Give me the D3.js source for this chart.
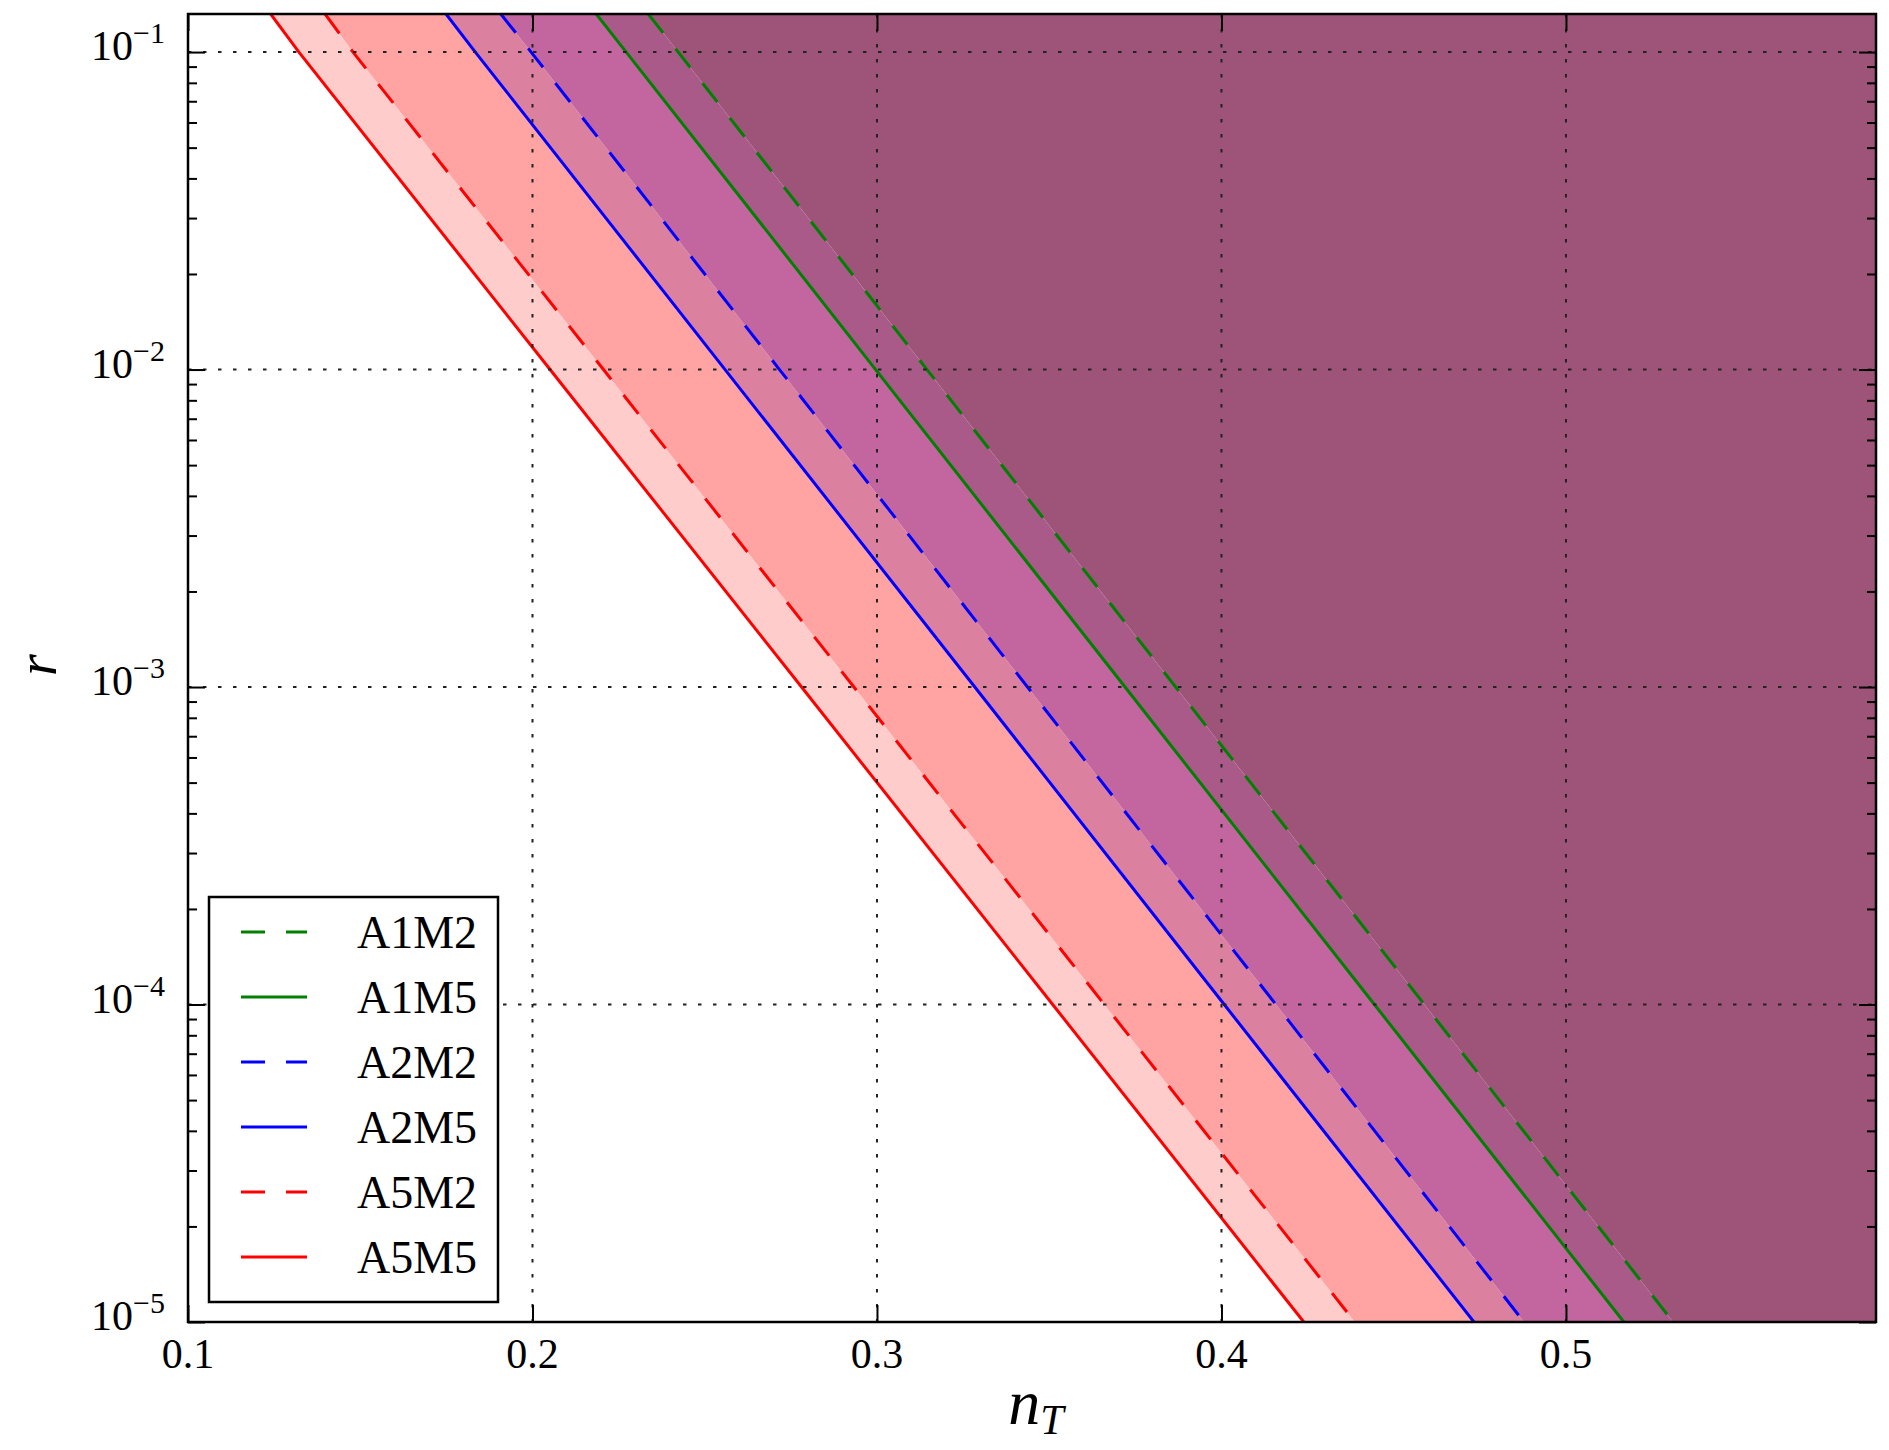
<!DOCTYPE html>
<html>
<head>
<meta charset="utf-8">
<script src="https://cdn.jsdelivr.net/npm/d3@7"></script>
<style>
  html, body { margin: 0; padding: 0; background: #fff; }
  svg { display: block; }
  text { font-family: "Liberation Serif", "DejaVu Serif", serif; fill: #000; }
</style>
</head>
<body>
<svg id="chart" width="1889" height="1450"></svg>
<script>
// ---- data ----
const rLevels = [0.1318, 1e-1, 1e-2, 1e-3, 1e-4, 1e-5];
const seriesNames = ["A5M5", "A5M2", "A2M5", "A2M2", "A1M5", "A1M2"];
const A5M5 = [0.1240, 0.1322, 0.2051, 0.2781, 0.3510, 0.4239];
const A5M2 = [0.1398, 0.1479, 0.2206, 0.2933, 0.3660, 0.4387];
const A2M5 = [0.1749, 0.1834, 0.2559, 0.3284, 0.4008, 0.4733];
const A2M2 = [0.1908, 0.1996, 0.2717, 0.3437, 0.4158, 0.4878];
const A1M5 = [0.2185, 0.2272, 0.2996, 0.3720, 0.4444, 0.5168];
const A1M2 = [0.2336, 0.2423, 0.3145, 0.3867, 0.4589, 0.5311];
const seriesColors = ["#ff0000", "#ff0000", "#0000ff", "#0000ff", "#008000", "#008000"];
const seriesDashed = [false, true, false, true, false, true];
const regionColors = ["#ffcccc", "#ffa3a3", "#dc80a0", "#c366a0", "#aa5a88", "#9e5479"];
const legendOrder = ["A1M2", "A1M5", "A2M2", "A2M5", "A5M2", "A5M5"];
const xTicks = [0.1, 0.2, 0.3, 0.4, 0.5];
const xTickLabels = ["0.1", "0.2", "0.3", "0.4", "0.5"];
const yTicks = [1e-5, 1e-4, 1e-3, 1e-2, 1e-1];
const yTickExps = ["−5", "−4", "−3", "−2", "−1"];
const xDomain = [0.1, 0.59];
const yDomain = [1e-5, 0.1318];

const seriesData = [A5M5, A5M2, A2M5, A2M2, A1M5, A1M2];

// ---- layout ----
const L = 188, R = 1876, T = 14, B = 1322;
const svg = d3.select("#chart");
const x = d3.scaleLinear().domain(xDomain).range([L, R]);
const y = d3.scaleLog().domain(yDomain).range([B, T]);

svg.append("defs").append("clipPath").attr("id", "clip")
  .append("rect").attr("x", L).attr("y", T).attr("width", R - L).attr("height", B - T);

const plot = svg.append("g").attr("clip-path", "url(#clip)");

// fills between consecutive curves
const area = d3.area()
  .y(d => y(d.r)).x0(d => x(d.a)).x1(d => x(d.b));
for (let i = 0; i < seriesData.length; i++) {
  const left = seriesData[i];
  const right = i + 1 < seriesData.length ? seriesData[i + 1] : null;
  const pts = rLevels.map((r, k) => ({ r: r, a: left[k], b: right ? right[k] : xDomain[1] + 0.05 }));
  plot.append("path").attr("d", area(pts)).attr("fill", regionColors[i]).attr("stroke", "none");
}

// grid (dotted)
const grid = svg.append("g").attr("clip-path", "url(#clip)");
xTicks.filter(v => v > xDomain[0]).forEach(v => {
  grid.append("line").attr("x1", x(v)).attr("x2", x(v)).attr("y1", T).attr("y2", B)
    .attr("stroke", "#222").attr("stroke-width", 2).attr("stroke-dasharray", "3.5 11.5");
});
yTicks.filter(v => v > yDomain[0]).forEach(v => {
  grid.append("line").attr("x1", L).attr("x2", R).attr("y1", y(v)).attr("y2", y(v))
    .attr("stroke", "#222").attr("stroke-width", 2).attr("stroke-dasharray", "3.5 11.5");
});

// curves
const line = d3.line().x(d => x(d.n)).y(d => y(d.r));
seriesData.forEach((s, i) => {
  const pts = rLevels.map((r, k) => ({ r: r, n: s[k] }));
  plot.append("path").attr("d", line(pts)).attr("fill", "none")
    .attr("stroke", seriesColors[i]).attr("stroke-width", 3)
    .attr("stroke-dasharray", seriesDashed[i] ? "24 20" : null);
});

// axes ticks (inside, all four sides)
const axB = d3.axisBottom(x).tickValues(xTicks).tickSize(-17).tickFormat("");
const axT = d3.axisTop(x).tickValues(xTicks).tickSize(-17).tickFormat("");
const minorY = [];
for (let e = -5; e <= -1; e++) for (let m = 1; m <= 9; m++) {
  const v = m * Math.pow(10, e);
  if (v >= yDomain[0] && v <= yDomain[1]) minorY.push(v);
}
const minorOnly = minorY.filter(v => !yTicks.some(t => Math.abs(t - v) / t < 1e-9));
const axL = d3.axisLeft(y).tickValues(yTicks).tickSize(-17).tickFormat("");
const axR = d3.axisRight(y).tickValues(yTicks).tickSize(-17).tickFormat("");
const axLm = d3.axisLeft(y).tickValues(minorOnly).tickSize(-9).tickFormat("");
const axRm = d3.axisRight(y).tickValues(minorOnly).tickSize(-9).tickFormat("");
function styleAxis(g) {
  g.select(".domain").remove();
  g.selectAll(".tick line").attr("stroke", "#000").attr("stroke-width", 2);
}
svg.append("g").attr("transform", `translate(0,${B})`).call(axB).call(styleAxis);
svg.append("g").attr("transform", `translate(0,${T})`).call(axT).call(styleAxis);
svg.append("g").attr("transform", `translate(${L},0)`).call(axL).call(styleAxis);
svg.append("g").attr("transform", `translate(${R},0)`).call(axR).call(styleAxis);
svg.append("g").attr("transform", `translate(${L},0)`).call(axLm).call(styleAxis);
svg.append("g").attr("transform", `translate(${R},0)`).call(axRm).call(styleAxis);

// frame
svg.append("rect").attr("x", L).attr("y", T).attr("width", R - L).attr("height", B - T)
  .attr("fill", "none").attr("stroke", "#000").attr("stroke-width", 2.5);

// tick labels
xTicks.forEach((v, i) => {
  svg.append("text").attr("x", x(v)).attr("y", B + 46).attr("text-anchor", "middle")
    .attr("font-size", 42).text(xTickLabels[i]);
});
yTicks.forEach((v, i) => {
  const t = svg.append("text").attr("x", 165).attr("y", y(v) + 8).attr("text-anchor", "end");
  t.append("tspan").attr("font-size", 42).text("10");
  t.append("tspan").attr("font-size", 30).attr("dy", -17).text(yTickExps[i]);
});

// axis labels
const xl = svg.append("text").attr("x", 1036).attr("y", 1424).attr("text-anchor", "middle");
xl.append("tspan").attr("font-size", 64).attr("font-style", "italic").text("n");
xl.append("tspan").attr("font-size", 42).attr("font-style", "italic").attr("dy", 10).text("T");
svg.append("text").attr("transform", "translate(56,665) rotate(-90)")
  .attr("text-anchor", "middle").attr("font-size", 56).attr("font-style", "italic").text("r");

// legend
const lg = svg.append("g");
lg.append("rect").attr("x", 209).attr("y", 897).attr("width", 289).attr("height", 405)
  .attr("fill", "#fff").attr("stroke", "#000").attr("stroke-width", 2.5);
legendOrder.forEach((name, j) => {
  const i = seriesNames.indexOf(name);
  const yy = 932 + j * 65;
  lg.append("line").attr("x1", 241).attr("x2", 307).attr("y1", yy).attr("y2", yy)
    .attr("stroke", seriesColors[i]).attr("stroke-width", 3)
    .attr("stroke-dasharray", seriesDashed[i] ? "24 21" : null);
  lg.append("text").attr("x", 357).attr("y", yy + 16).attr("font-size", 46).text(name);
});
</script>
</body>
</html>
